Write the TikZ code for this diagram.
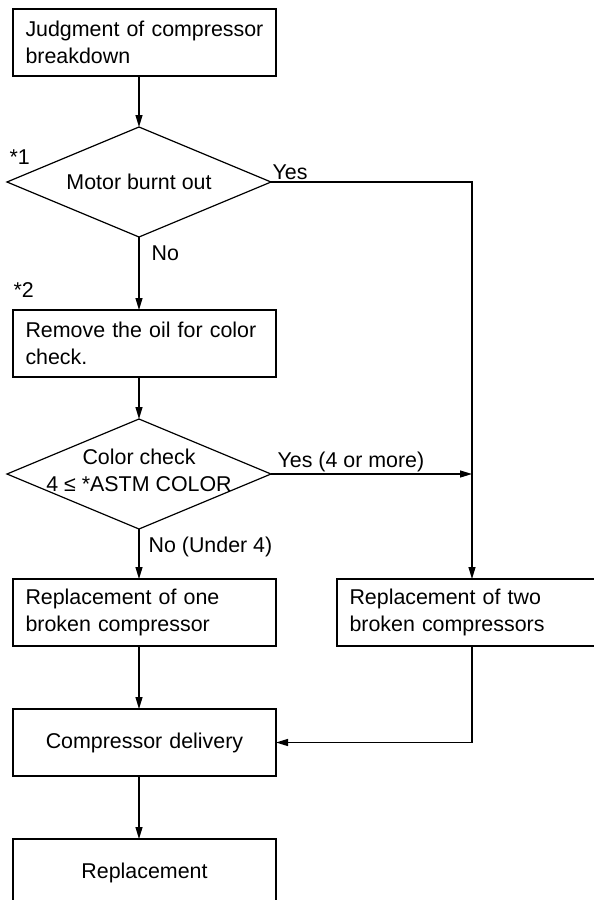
\documentclass[tikz,border=0pt]{standalone}
\usepackage{fontspec}
\setmainfont{Liberation Sans}
\usetikzlibrary{arrows.meta, positioning, shapes.geometric}
\newcommand{\flowfont}{\fontsize{10.7pt}{13.5pt}\selectfont\hyphenpenalty=10000\relax}
\tikzset{
  blk/.style ={rectangle, draw, align=left, text width=119pt, inner xsep=6.25pt, inner ysep=0pt,
               outer sep=0pt, minimum width=131.5pt, minimum height=33.5pt, font=\flowfont},
  dec/.style ={diamond, draw, aspect=2.4, minimum width=132pt, minimum height=55pt,
               inner xsep=0pt, inner ysep=-4pt, outer sep=0pt, align=center, font=\flowfont},
  lbl/.style ={font=\flowfont, inner sep=0pt},
  fl/.style  ={-{Triangle[length=6pt, width=3.5pt]}},
}
\begin{document}
\begin{tikzpicture}[line width=0.6pt]
  \useasboundingbox (0,0) rectangle (297pt,-450pt);
  \node[blk] (judge) at (72.25pt,-21.25pt) {Judgment of compressor\\breakdown};
  \node[dec, below=25.5pt of judge, xshift=-2.75pt] (motor) {Motor burnt out};
  \node[blk, below=36.5pt of motor, xshift=2.75pt] (remove) {Remove the oil for color\\check.};
  \node[dec, below=21pt of remove, xshift=-2.75pt, text depth=4pt, inner ysep=-6pt] (color) {Color check\\4 ≤ *ASTM COLOR};
  \node[blk, below=25pt of color, xshift=2.75pt] (one) {Replacement of one\\broken compressor};
  \node[blk, right=30.5pt of one, text width=122.5pt, minimum width=135pt] (two) {Replacement of two\\broken compressors};
  \node[blk, align=center, below=31.5pt of one] (deliver) {Compressor delivery};
  \node[blk, align=center, below=31.5pt of deliver] (repl) {Replacement};
  % labels
  \node[lbl, anchor=base west] (star1) at ([xshift=1pt, yshift=8.75pt]motor.west) {*1};
  \node[lbl, anchor=base west] (yes1) at ([xshift=0.5pt, yshift=1.5pt]motor.east) {Yes};
  \node[lbl, anchor=north west] (no1) at ([xshift=6pt, yshift=-4pt]motor.south) {No};
  \node[lbl, anchor=base west] (star2) at ([yshift=6.25pt]remove.north west) {*2};
  \node[lbl, anchor=base west] (yes2) at ([xshift=3pt, yshift=3.5pt]color.east) {Yes (4 or more)};
  \node[lbl, anchor=north west] (no2) at ([xshift=4.5pt, yshift=-3.5pt]color.south) {No (Under 4)};
  % flow
  \draw[fl] (judge.south -| motor.north) -- (motor.north);
  \draw[fl] (motor.south) -- (motor.south |- remove.north);
  \draw[fl] (remove.south -| color.north) -- (color.north);
  \draw[fl] (color.south) -- (color.south |- one.north);
  \draw[fl] (one.south -| color.south) -- (color.south |- deliver.north);
  \draw[fl] (deliver.south -| color.south) -- (color.south |- repl.north);
  \draw[fl] (motor.east) -| (two.north);
  \draw[fl] (color.east) -- (color.east -| two.north);
  \draw[fl] (two.south) |- (deliver.east);
\end{tikzpicture}
\end{document}
